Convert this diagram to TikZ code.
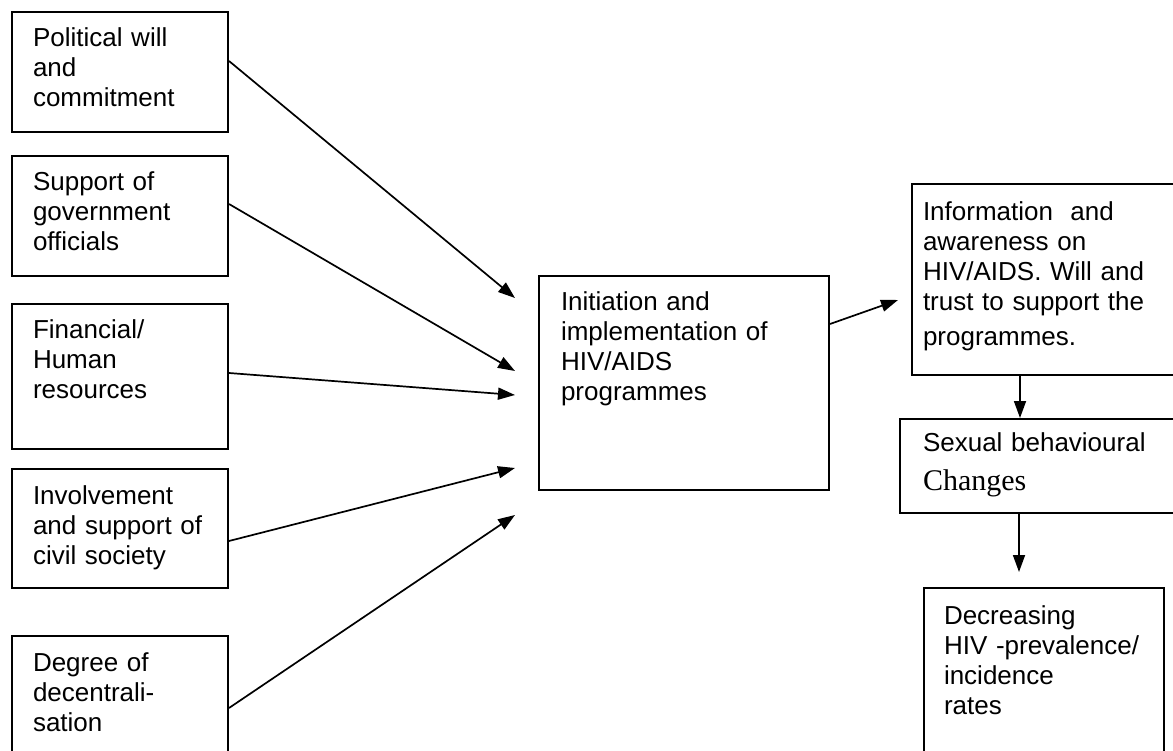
\documentclass[tikz,border=0pt]{standalone}
\usepackage{fontspec}
\setmainfont{Liberation Sans}
\newfontfamily\serifchg{Liberation Serif}
\usetikzlibrary{arrows.meta}

\begin{document}
\begin{tikzpicture}[
  x=1pt, y=-1pt,
  box/.style={draw=black, line width=2pt, anchor=north west, align=left,
    inner ysep=0pt, inner xsep=21pt, text width=174pt, text height=35pt,
    font=\fontsize{26pt}{30pt}\selectfont},
  arr/.style={line width=1.7pt, draw=black, -{Triangle[length=17pt,width=12pt]}}
]
  \useasboundingbox (0,0) rectangle (1173,751);

  % Factors (left column)
  \node[box, text depth=85pt] (f1) at (11,11) {Political will\\and\\commitment};
  \node[box, text depth=85pt] (f2) at (11,155) {Support of\\government\\officials};
  \node[box, text depth=110pt] (f3) at (11,303) {Financial/\\Human\\resources};
  \node[box, text depth=84pt] (f4) at (11,468) {Involvement\\and support of\\civil society};
  \node[box, text depth=85pt] (f5) at (11,635) {Degree of\\decentrali-\\sation};

  % Programmes (centre)
  \node[box, inner xsep=22pt, text width=246pt, text depth=179pt] (prog) at (538,275)
    {Initiation and\\implementation of\\HIV/AIDS\\programmes};

  % Outcomes (right column)
  \node[box, inner xsep=11pt, text width=262pt, text height=37pt, text depth=154pt] (info) at (911,183)
    {Information\ \ and\\awareness on\\HIV/AIDS. Will and\\trust to support the\\[5pt]programmes.};
  \node[box, inner xsep=23pt, text width=260pt, text height=32pt, text depth=62pt] (sex) at (899,418)
    {Sexual behavioural\\[9pt]{\serifchg\fontsize{30pt}{30pt}\selectfont Changes}};
  \node[box, inner xsep=20pt, text width=200pt, text height=36pt, text depth=140pt] (rates) at (923,587)
    {Decreasing\\HIV -prevalence/\\incidence\\rates};

  % Arrows from factors to programmes
  \foreach \i/\dy/\ty in {1/11/298, 2/12/371, 3/3.5/395, 4/-12.5/468, 5/-12/515} {
    \coordinate (t\i) at (515,\ty);
    \draw[arr] ([yshift=\dy pt]f\i.east) -- (t\i);
  }

  % Arrows along the outcome chain
  \coordinate (tinfo) at (898,300);
  \coordinate (trates) at (1019,572);
  \draw[arr] ([yshift=59pt]prog.east) -- (tinfo);
  \draw[arr] ([xshift=109pt]info.south west) -- ([xshift=121pt]sex.north west);
  \draw[arr] ([xshift=120pt]sex.south west) -- (trates);
\end{tikzpicture}
\end{document}
